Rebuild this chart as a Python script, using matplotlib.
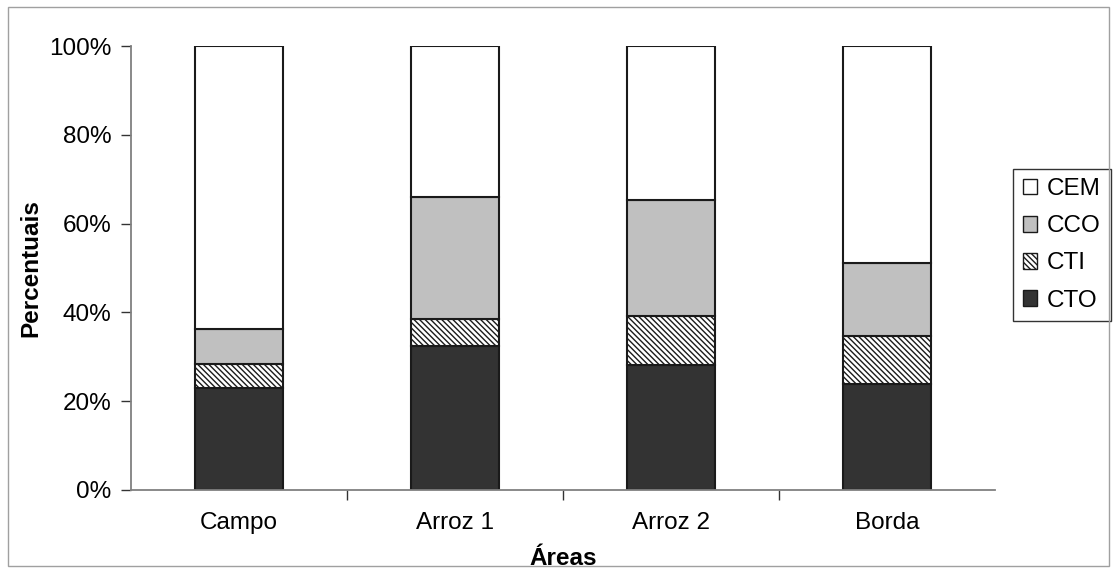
import matplotlib
matplotlib.use("Agg")
import matplotlib.pyplot as plt
from matplotlib.patches import Rectangle
from matplotlib.ticker import FuncFormatter, FixedLocator
import numpy as np

plt.rcParams['font.family'] = ['Liberation Sans', 'DejaVu Sans']
plt.rcParams['hatch.linewidth'] = 1.0

categories = ["Campo", "Arroz 1", "Arroz 2", "Borda"]
series_names = ["CTO", "CTI", "CCO", "CEM"]
CTO = [23.0, 32.4, 28.2, 23.9]
CTI = [5.3, 6.0, 11.0, 10.7]
CCO = [8.0, 27.7, 26.1, 16.5]
CEM = [100 - (a + b + c) for a, b, c in zip(CTO, CTI, CCO)]
values = [CTO, CTI, CCO, CEM]

colors = ["#333333", "white", "#c0c0c0", "white"]
hatches = [None, "\\" * 6, None, None]

FS = 17.5

fig = plt.figure(figsize=(11.16, 5.73), dpi=100)
ax = fig.add_axes([0.1174, 0.1449, 0.774, 0.7748])

x = np.arange(len(categories))
bottom = np.zeros(len(categories))
handles = []
for name, vals, col, h in zip(series_names, values, colors, hatches):
    v = np.array(vals) / 100.0
    b = ax.bar(x, v, width=0.41, bottom=bottom, color=col, edgecolor="#1a1a1a",
               linewidth=1.5, hatch=h, label=name, zorder=2)
    bottom += v
    handles.append(b)

ax.set_xlim(-0.5, len(categories) - 0.5)
ax.set_ylim(0, 1)
ax.yaxis.set_major_locator(FixedLocator([0, 0.2, 0.4, 0.6, 0.8, 1.0]))
ax.yaxis.set_major_formatter(FuncFormatter(lambda v, p: f"{v*100:.0f}%"))
ax.set_xticks(x)
ax.set_xticklabels(categories)
ax.set_xticks(np.arange(0.5, len(categories) - 0.5, 1.0), minor=True)
ax.tick_params(axis='x', which='major', length=0, pad=16, labelsize=FS)
ax.tick_params(axis='x', which='minor', length=7, width=1, color='#333333', direction='out')
ax.tick_params(axis='y', which='major', length=7, width=1, color='#333333', direction='out', labelsize=FS, pad=7)

for s in ['top', 'right']:
    ax.spines[s].set_visible(False)
for s in ['left', 'bottom']:
    ax.spines[s].set_color('#808080')
    ax.spines[s].set_linewidth(1.3)

ax.set_ylabel("Percentuais", fontsize=FS, fontweight='bold', labelpad=5)
ax.set_xlabel("Áreas", fontsize=FS, fontweight='bold', labelpad=9)

leg = ax.legend(handles[::-1], series_names[::-1], loc='center left',
                bbox_to_anchor=(1.021, 0.552), fontsize=FS, frameon=True,
                fancybox=False, edgecolor='black', handlelength=0.6, handleheight=0.6,
                handletextpad=0.4, labelspacing=0.62, borderpad=0.4, borderaxespad=0)
leg.get_frame().set_linewidth(1.0)
for p in leg.get_patches():
    p.set_linewidth(1.0)

fig.patches.append(Rectangle((0.007, 0.012), 0.987, 0.976, transform=fig.transFigure,
                             fill=False, edgecolor='#a0a0a0', linewidth=1.0))

fig.savefig("out.png", dpi=100)
